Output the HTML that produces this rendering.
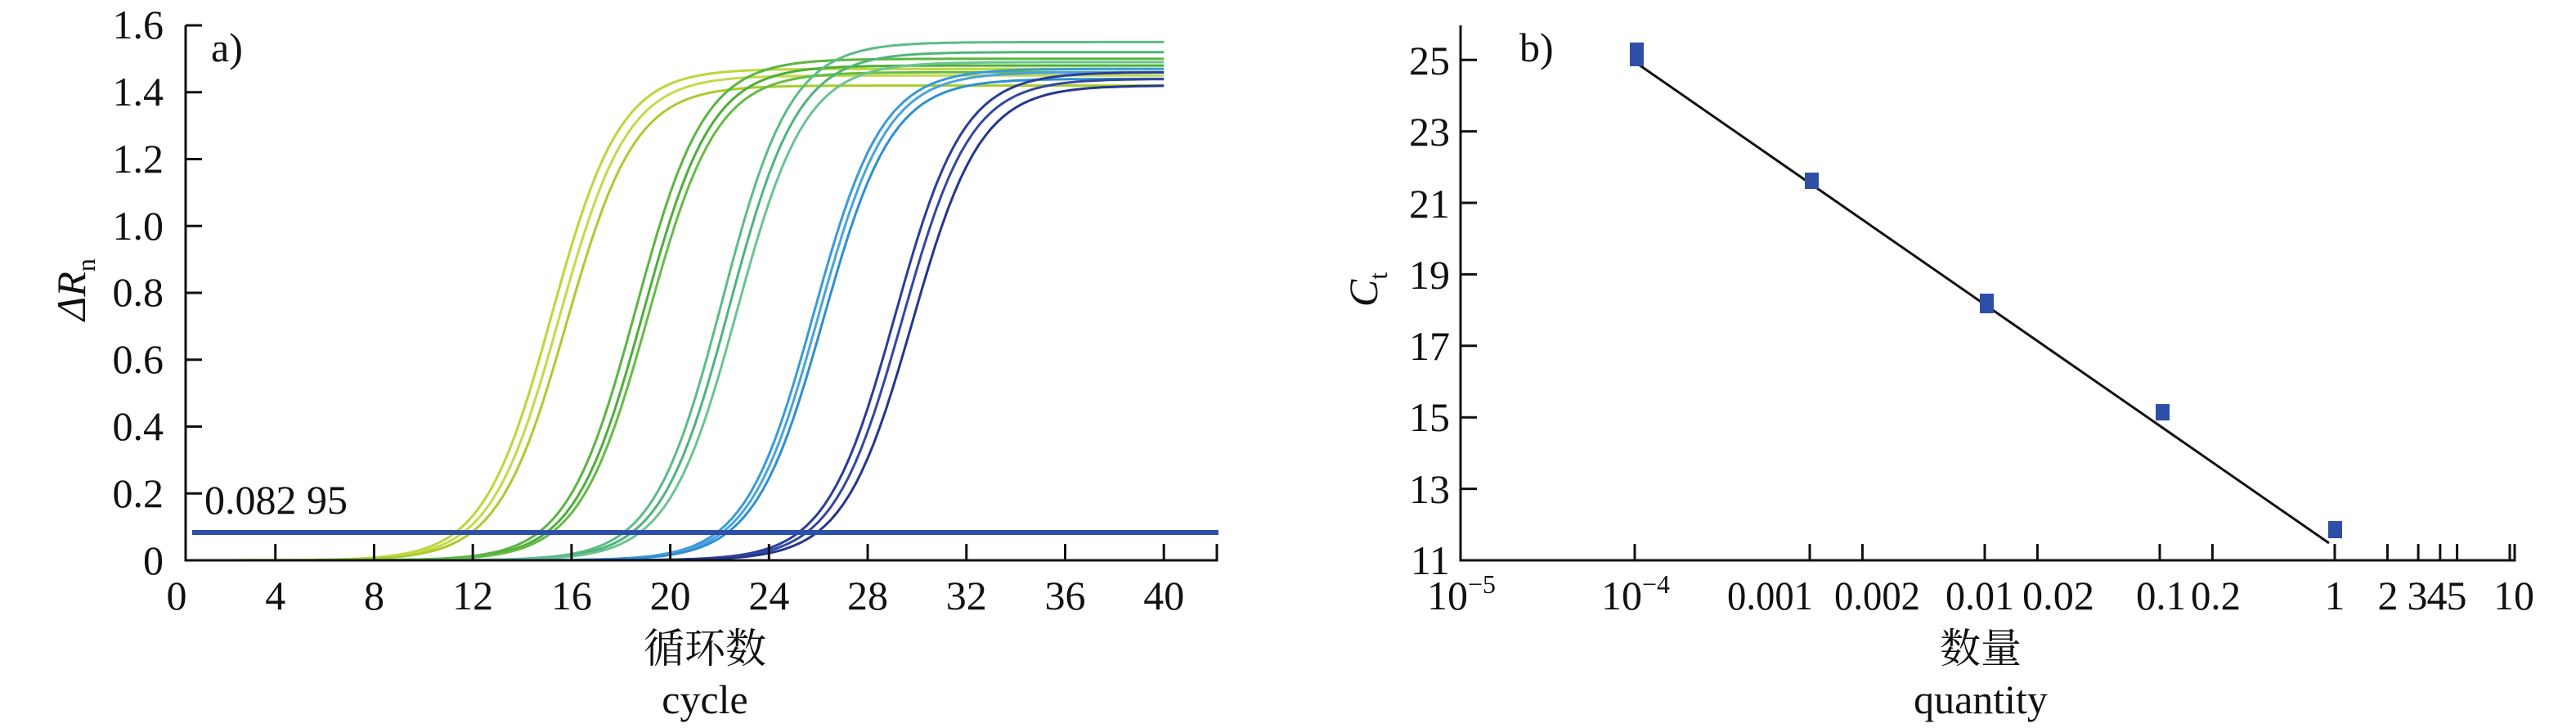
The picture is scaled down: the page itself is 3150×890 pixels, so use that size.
<!DOCTYPE html>
<html><head><meta charset="utf-8"><style>
html,body{margin:0;padding:0;background:#fff}
svg{display:block}
text{font-family:"Liberation Serif","Noto Serif CJK SC",serif;fill:#111}
</style></head><body>
<svg id="s" width="3150" height="890" xmlns="http://www.w3.org/2000/svg">
<g id="curves" fill="none" stroke-width="3"></g>
<g stroke="#111" stroke-width="3" fill="none">
<path d="M227,31 V685 H1488 V665"/>
<path id="ticksA" d=""/>
</g>
<line x1="235" y1="651" x2="1490" y2="651" stroke="#2e4fa8" stroke-width="6"/>
<g font-size="50" text-anchor="end">
<text x="200" y="702">0</text><text x="200" y="620">0.2</text><text x="200" y="538">0.4</text>
<text x="200" y="456">0.6</text><text x="200" y="374">0.8</text><text x="200" y="293">1.0</text>
<text x="200" y="211">1.2</text><text x="200" y="129">1.4</text><text x="200" y="47">1.6</text>
</g>
<g font-size="50" text-anchor="middle" id="xlabA"></g>
<text x="258" y="75" font-size="50">a)</text>
<text x="250" y="628" font-size="50">0.082 95</text>
<text x="862" y="810" font-size="50" text-anchor="middle">循环数</text>
<text x="862" y="872" font-size="50" text-anchor="middle">cycle</text>
<text transform="translate(104,354) rotate(-90)" font-size="50" text-anchor="middle"><tspan font-style="italic">ΔR</tspan><tspan font-size="32" dy="12">n</tspan></text>

<g stroke="#111" stroke-width="3" fill="none">
<path d="M1786,31 V685 H3075 V665"/>
<path id="ticksB" d=""/>
<line x1="2001" y1="77" x2="2848" y2="664" stroke-width="3"/>
</g>
<g font-size="50" text-anchor="end">
<text x="1773" y="702">11</text><text x="1773" y="615">13</text><text x="1773" y="527">15</text>
<text x="1773" y="440">17</text><text x="1773" y="353">19</text><text x="1773" y="266">21</text>
<text x="1773" y="178">23</text><text x="1773" y="91">25</text>
</g>
<g font-size="50">
<text x="1745" y="745">10<tspan font-size="32" dy="-20">−5</tspan></text>
<text x="1958" y="745">10<tspan font-size="32" dy="-20">−4</tspan></text>
<text x="2112" y="745" textLength="105" lengthAdjust="spacingAndGlyphs">0.001</text>
<text x="2243" y="745" textLength="105" lengthAdjust="spacingAndGlyphs">0.002</text>
<text x="2379" y="745" textLength="84" lengthAdjust="spacingAndGlyphs">0.01</text>
<text x="2473" y="745" textLength="88" lengthAdjust="spacingAndGlyphs">0.02</text>
<text x="2612" y="745" textLength="61" lengthAdjust="spacingAndGlyphs">0.1</text>
<text x="2679" y="745" textLength="61" lengthAdjust="spacingAndGlyphs">0.2</text>
<g text-anchor="middle">
<text x="2855" y="745">1</text><text x="2920" y="745">2</text>
<text x="2956" y="745">3</text><text x="2980" y="745">4</text><text x="3004" y="745">5</text>
<text x="3074" y="745">10</text>
</g>
</g>
<text x="2422" y="810" font-size="50" text-anchor="middle">数量</text>
<text x="2422" y="872" font-size="50" text-anchor="middle">quantity</text>
<text x="1858" y="75" font-size="50">b)</text>
<text transform="translate(1684,354) rotate(-90)" font-size="50" text-anchor="middle"><tspan font-style="italic">C</tspan><tspan font-size="32" dy="12">t</tspan></text>
<g fill="#2e4fa8">
<rect x="1993" y="52" width="17" height="29"/>
<rect x="2207" y="211" width="17" height="20"/>
<rect x="2421" y="359" width="17" height="24"/>
<rect x="2636" y="494" width="17" height="20"/>
<rect x="2847" y="637" width="17" height="21"/>
</g>
</svg>
<script>
var X=function(c){return 216+c*30.18;}, Y=function(v){return 685-v*408.75;};
var ta="";for(var c=4;c<=40;c+=4){ta+="M"+X(c)+",685V665";}
for(var v=1;v<=8;v++){ta+="M227,"+(685-v*81.75)+"H247";}
document.getElementById("ticksA").setAttribute("d",ta);
var xl="";for(var c=0;c<=40;c+=4){xl+='<text x="'+X(c)+'" y="745">'+c+'</text>';}
document.getElementById("xlabA").innerHTML=xl;
var L=function(q){return 2855+Math.log10(q)*214;};
var tb="";[1e-4,1e-3,2e-3,1e-2,2e-2,0.1,0.2,1,2,3,4,5,10].forEach(function(q){tb+="M"+L(q)+",685V665";});
for(var i=1;i<=7;i++){tb+="M1786,"+(685-i*87.4)+"H1806";}
document.getElementById("ticksB").setAttribute("d",tb);
var groups=[
 {col:["#bcd63a","#c4da48","#a9cc2e"],m:[15.2,15.5,15.8],A:[1.47,1.45,1.42]},
 {col:["#5ab540","#4caf3a","#66bb44"],m:[18.6,18.9,19.1],A:[1.50,1.48,1.46]},
 {col:["#5cbc85","#4fb47a","#6cc391"],m:[22.1,22.4,22.7],A:[1.55,1.52,1.49]},
 {col:["#3a9ad9","#4aa3dc","#2f8fd0"],m:[25.8,26.0,26.2],A:[1.47,1.46,1.44]},
 {col:["#2a3d9a","#33489f","#25368f"],m:[29.1,29.4,29.8],A:[1.46,1.44,1.42]}];
var h="";
groups.forEach(function(g){for(var j=0;j<3;j++){var d="";for(var c=1;c<=40;c+=0.25){
 var v=g.A[j]/(1+Math.exp(-0.72*(c-g.m[j])))-g.A[j]/(1+Math.exp(0.72*g.m[j]));
 if(v<0)v=0; d+=(c==1?"M":"L")+X(c).toFixed(1)+","+Y(v).toFixed(1);}
 h+='<path d="'+d+'" stroke="'+g.col[j]+'"/>';}});
document.getElementById("curves").innerHTML=h;
</script>
</body></html>
